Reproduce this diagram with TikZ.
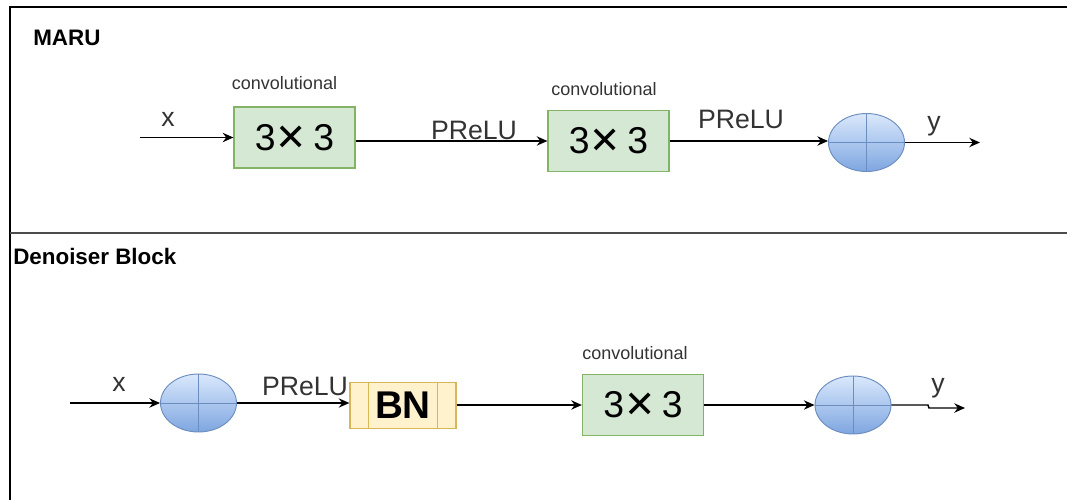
\documentclass[tikz,border=0pt]{standalone}
\usepackage{fontspec}
\setmainfont{Liberation Sans}
\newfontfamily\symfont{DejaVu Sans}
\usetikzlibrary{shapes.geometric,arrows.meta}
\definecolor{convfill}{HTML}{D5E8D4}
\definecolor{convline}{HTML}{82B366}
\definecolor{bnfill}{HTML}{FFF2CC}
\definecolor{bnline}{HTML}{D6B656}
\definecolor{sumtop}{HTML}{DAE8FC}
\definecolor{sumbot}{HTML}{7EA6E0}
\definecolor{sumline}{HTML}{6C8EBF}
\definecolor{labelgray}{HTML}{333333}
\newcommand{\kernelsize}{{\fontsize{28}{28}\selectfont 3{\symfont\bfseries ✕}\,3}}
\tikzset{
  conv/.style={draw=convline, fill=convfill, line width=0.9pt,
    minimum width=90.75pt, minimum height=45.75pt, inner sep=0pt},
  bnbox/.style={draw=bnline, fill=bnfill, line width=0.9pt,
    minimum width=79.5pt, minimum height=34pt, inner sep=0pt},
  sum/.style={ellipse, draw=sumline, line width=0.7pt, top color=sumtop,
    bottom color=sumbot, minimum width=57pt, minimum height=43.5pt, inner sep=0pt},
  cross/.style={draw=sumline, line width=0.7pt},
  arr/.style={line width=1.1pt, -{Stealth[length=8pt,width=7pt]}},
  conntext/.style={font=\fontsize{13.5}{15}\selectfont, text=labelgray, inner sep=0pt},
  edgetext/.style={font=\fontsize{20}{22}\selectfont, text=labelgray, inner sep=0pt},
  title/.style={font=\fontsize{16.8}{18}\selectfont\bfseries, inner sep=0pt, anchor=west},
}
\begin{document}
\begin{tikzpicture}[x=0.75pt,y=-0.75pt]
  \useasboundingbox (0,0) rectangle (1067,500);
  % frame and section divider
  \draw[line width=1.2pt] (1067,7) -- (10,7) -- (10,500);
  \draw[line width=1.5pt, draw=black!70] (10,233) -- (1067,233);

  % ---- MARU ----
  \node[title] (t1) at (33,38) {MARU};
  \node[conv] (c1) at (294.5,137.5) {\kernelsize};
  \node[conv] (c2) at (608.5,141) {\kernelsize};
  \node[sum] (s1) at (866.5,142.5) {};
  \draw[cross] (s1.north) -- (s1.south) (s1.west) -- (s1.east);
  \node[conntext] (l1) at (284.5,83) {convolutional};
  \node[conntext] (l2) at (604,89) {convolutional};
  \coordinate (in1) at (140,137.5);
  \coordinate (out1) at (980,142.5);
  \draw[arr] (in1) -- (c1.west);
  \draw[arr] (c1.east |- c2.west) -- (c2.west);
  \draw[arr] (c2.east) -- (c2.east -| s1.west);
  \draw[arr] (s1.east) -- (out1);
  \node[edgetext] (x1) at (168,119) {x};
  \node[edgetext] (p1) at (474,130) {PReLU};
  \node[edgetext] (p2) at (741,119) {PReLU};
  \node[edgetext] (y1) at (934,126) {y};

  % ---- Denoiser Block ----
  \node[title] (t2) at (13,256) {Denoiser Block};
  \node[sum] (s2) at (198.5,403) {};
  \draw[cross] (s2.north) -- (s2.south) (s2.west) -- (s2.east);
  \node[bnbox] (bn) at (403,405.5) {\fontsize{29}{29}\selectfont\bfseries BN};
  \draw[bnline, line width=0.9pt] ([xshift=14.25pt]bn.north west) -- ([xshift=14.25pt]bn.south west)
    ([xshift=-14.25pt]bn.north east) -- ([xshift=-14.25pt]bn.south east);
  \node[conv] (c3) at (643,405) {\kernelsize};
  \node[sum] (s3) at (853,405) {};
  \draw[cross] (s3.north) -- (s3.south) (s3.west) -- (s3.east);
  \node[conntext] (l3) at (635,353) {convolutional};
  \coordinate (in2) at (70,403);
  \coordinate (jog) at (928,405);
  \coordinate (out2) at (965,408);
  \draw[arr] (in2) -- (s2.west);
  \draw[arr] (s2.east) -- (s2.east -| bn.west);
  \draw[arr] (bn.east |- c3.west) -- (c3.west);
  \draw[arr] (c3.east) -- (s3.west);
  \draw[arr] (s3.east) -- (jog) -- ([xshift=0.75pt]jog |- out2) -- (out2);
  \node[edgetext] (x2) at (119,384) {x};
  \node[edgetext] (p3) at (305,386) {PReLU};
  \node[edgetext] (y2) at (938,388) {y};
\end{tikzpicture}
\end{document}
